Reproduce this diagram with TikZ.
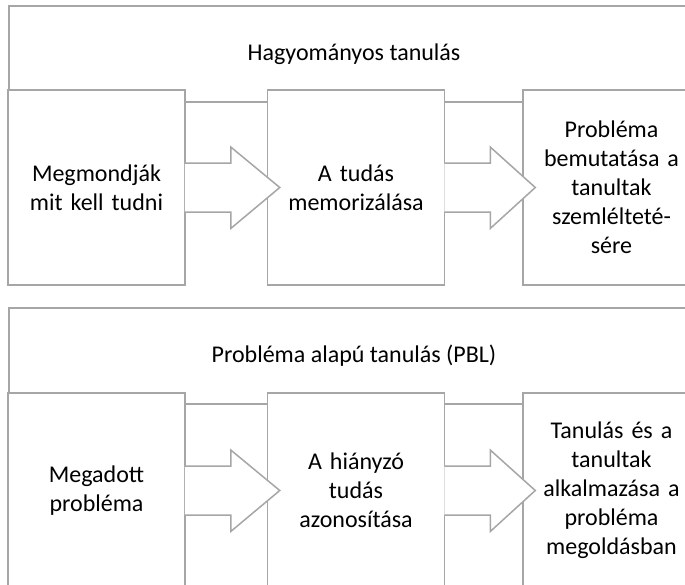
\documentclass[tikz,border=0pt]{standalone}
\usepackage{fontspec}
\setmainfont{Carlito}
\usetikzlibrary{positioning, calc}
\definecolor{boxgray}{RGB}{166,166,166}
\tikzset{
  headbox/.style={draw=boxgray, line width=1.5pt, minimum width=690pt, minimum height=96pt, inner sep=0pt},
  stepbox/.style={draw=boxgray, fill=white, line width=1.5pt, minimum width=177pt, minimum height=195pt, text width=170pt, align=center, inner sep=0pt},
  blockarrow/.style={draw=boxgray, fill=white, line width=1.5pt, line join=miter}
}

\begin{document}
\begin{tikzpicture}[x=1pt, y=-1pt, font=\fontsize{24}{29}\selectfont, node distance=81pt]
  \clip (0,0) rectangle (685,584);
  % hagyomanyos tanulas
  \node[headbox] (h1) at (354,54) {Hagyományos tanulás};
  \node[stepbox] (b1) at (96.5,187.5) {Megmondják\\mit kell tudni};
  \node[stepbox, right=of b1] (b2) {A tudás\\memorizálása};
  \node[stepbox, right=77pt of b2] (b3) {Probléma\\bemutatása a\\tanultak\\szemlélteté-\\sére};
  % PBL
  \node[headbox] (h2) at (354,356) {Probléma alapú tanulás (PBL)};
  \node[stepbox] (c1) at (96.5,490.5) {Megadott\\probléma};
  \node[stepbox, right=of c1] (c2) {A hiányzó\\tudás\\azonosítása};
  \node[stepbox, right=77pt of c2] (c3) {Tanulás és a\\tanultak\\alkalmazása a\\probléma\\megoldásban};
  % block arrows
  \foreach \a/\b in {b1/b2, b2/b3, c1/c2, c2/c3}{
    \filldraw[blockarrow] ([shift={(-1,-24.5)}]\a.east) -- ++(46,0) -- ++(0,-16)
      -- ($(\b.west)+(13,0)$) -- ([shift={(45,41)}]\a.east) -- ++(0,-16.5) -- ++(-46,0);
  }
\end{tikzpicture}
\end{document}
